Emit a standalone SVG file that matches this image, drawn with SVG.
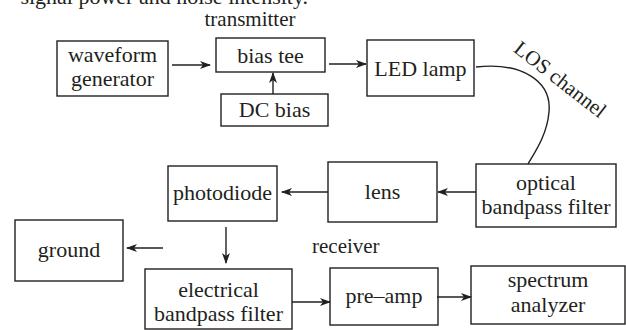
<svg xmlns="http://www.w3.org/2000/svg" width="626" height="330" viewBox="0 0 626 330">
<defs>
<style>
.box{fill:#fff;stroke:#231f20;stroke-width:1.4}
.c{fill:none;stroke:#231f20;stroke-width:1.4}
</style>
<marker id="ah" markerWidth="11" markerHeight="8" refX="10" refY="4" orient="auto" markerUnits="userSpaceOnUse">
<path d="M0,0 L11,4 L0,8 L3,4 z" fill="#231f20"/>
</marker>
</defs>
<rect width="626" height="330" fill="#fff"/>
<g font-family="Liberation Serif, serif" fill="#231f20">
<text x="308" y="4" text-anchor="end" font-size="22">signal power and noise intensity.</text>
<text x="250" y="26" text-anchor="middle" font-size="21">transmitter</text>
<text x="312" y="253" font-size="21">receiver</text>

<g font-size="22" text-anchor="middle">
<g id="waveform-generator"><rect class="box" x="57" y="41" width="111" height="55"/><text x="112.5" y="62">waveform</text><text x="112.5" y="86">generator</text></g>
<g id="bias-tee"><rect class="box" x="216" y="38" width="109" height="34"/><text x="270.5" y="63">bias tee</text></g>
<g id="dc-bias"><rect class="box" x="221" y="94" width="107" height="32"/><text x="274.5" y="117">DC bias</text></g>
<g id="led-lamp"><rect class="box" x="367" y="40" width="107" height="56"/><text x="420.5" y="76">LED lamp</text></g>
<g id="optical-bandpass-filter"><rect class="box" x="476" y="164" width="140" height="63"/><text x="546" y="190">optical</text><text x="546" y="214">bandpass filter</text></g>
<g id="lens"><rect class="box" x="328" y="162" width="109" height="60"/><text x="382.5" y="199">lens</text></g>
<g id="photodiode"><rect class="box" x="168" y="166" width="109" height="55"/><text x="222.5" y="200">photodiode</text></g>
<g id="ground"><rect class="box" x="15" y="220" width="108" height="61"/><text x="69" y="257">ground</text></g>
<g id="electrical-bandpass-filter"><rect class="box" x="145" y="269" width="147" height="60"/><text x="218.5" y="297">electrical</text><text x="218.5" y="321">bandpass filter</text></g>
<g id="pre-amp"><rect class="box" x="330" y="268" width="108" height="57"/><text x="384" y="303">pre–amp</text></g>
<g id="spectrum-analyzer"><rect class="box" x="471" y="266" width="154" height="58"/><text x="548" y="287">spectrum</text><text x="548" y="312">analyzer</text></g>
</g>

<g id="connectors">
<line class="c" x1="172" y1="65" x2="210" y2="65" marker-end="url(#ah)"/>
<line class="c" x1="273" y1="94" x2="273" y2="73" marker-end="url(#ah)"/>
<line class="c" x1="329" y1="64" x2="366" y2="64" marker-end="url(#ah)"/>
<path class="c" d="M476,67 C520,62 552,80 549,112 C547,135 535,152 528,164"/>
<text transform="translate(556,85) rotate(38)" text-anchor="middle" font-size="21">LOS channel</text>
<line class="c" x1="476" y1="192" x2="438" y2="192" marker-end="url(#ah)"/>
<line class="c" x1="328" y1="192" x2="282" y2="192" marker-end="url(#ah)"/>
<line class="c" x1="226" y1="227" x2="226" y2="263" marker-end="url(#ah)"/>
<line class="c" x1="163" y1="248" x2="127" y2="248" marker-end="url(#ah)"/>
<line class="c" x1="292" y1="302" x2="330" y2="302" marker-end="url(#ah)"/>
<line class="c" x1="437" y1="297" x2="471" y2="297" marker-end="url(#ah)"/>
</g>
</g>
</svg>
